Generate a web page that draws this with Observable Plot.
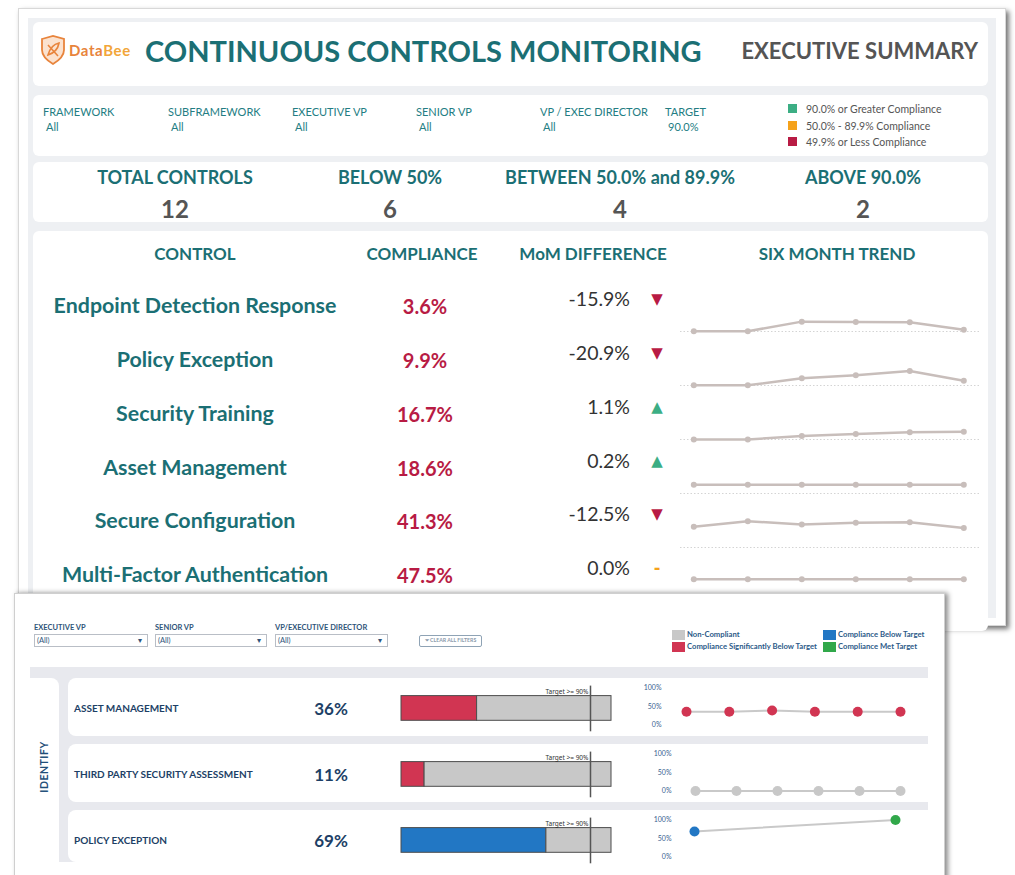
<!DOCTYPE html>
<html><head><meta charset="utf-8">
<script src="https://cdn.jsdelivr.net/npm/d3@7"></script>
<script src="https://cdn.jsdelivr.net/npm/@observablehq/plot@0.6"></script>
<style>
body{margin:0;width:1015px;height:875px;overflow:hidden;background:#fff;font-family:Lato,"Open Sans",sans-serif;position:relative}
.abs{position:absolute;box-sizing:border-box}
.t{position:absolute;white-space:nowrap;line-height:1}
.c{transform:translate(-50%,-50%)}
.l{transform:translate(0,-50%)}
.r{transform:translate(-100%,-50%)}
</style></head><body>
<div id="root"></div>
<script>
// ---------- DATA ----------
const dashTitle = "CONTINUOUS CONTROLS MONITORING";
const dashSubtitle = "EXECUTIVE SUMMARY";
const filterLabels = ["FRAMEWORK","SUBFRAMEWORK","EXECUTIVE VP","SENIOR VP","VP / EXEC DIRECTOR","TARGET"];
const filterValues = ["All","All","All","All","All","90.0%"];
const bandLabels = ["90.0% or Greater Compliance","50.0% - 89.9% Compliance","49.9% or Less Compliance"];
const kpiLabels = ["TOTAL CONTROLS","BELOW 50%","BETWEEN 50.0% and 89.9%","ABOVE 90.0%"];
const kpiValues = [12,6,4,2];
const tableHeaders = ["CONTROL","COMPLIANCE","MoM DIFFERENCE","SIX MONTH TREND"];
const controls = ["Endpoint Detection Response","Policy Exception","Security Training","Asset Management","Secure Configuration","Multi-Factor Authentication"];
const compliance = [3.6,9.9,16.7,18.6,41.3,47.5];
const momDiff = [-15.9,-20.9,1.1,0.2,-12.5,0.0];
const months = [1,2,3,4,5,6];
const trend = [
  [0.5,0.5,21,20,19.5,3.6],
  [0.5,0.5,15.5,22,30.8,9.9],
  [0.2,0.2,7.5,11.5,15.6,16.7],
  [18.4,18.4,18.4,18.4,18.4,18.6],
  [44,56,49,52.5,53.8,41.3],
  [47.5,47.5,47.5,47.5,47.5,47.5]
];
// bottom panel
const bFilterLabels = ["EXECUTIVE VP","SENIOR VP","VP/EXECUTIVE DIRECTOR"];
const bFilterValues = ["(All)","(All)","(All)"];
const statuses = ["Non-Compliant","Compliance Significantly Below Target","Compliance Below Target","Compliance Met Target"];
const groupName = "IDENTIFY";
const bControls = ["ASSET MANAGEMENT","THIRD PARTY SECURITY ASSESSMENT","POLICY EXCEPTION"];
const bCompliance = [36,11,69];
const targetValue = 90;
const bTrendMonths = [[1,2,3,4,5,6],[1,2,3,4,5,6],[1,6]];
const bTrend = [[36,36,39,36,36,36],[0,0,0,0,0,0],[69,100]];

// ---------- STYLE ----------
const TEAL = "#1b6f74", TEAL2 = "#237d83", RED = "#b81b44", GREEN = "#3cae84", ORANGE = "#f5a21b";
const bandColors = [GREEN, ORANGE, RED];
const statusColors = ["#c8c8c8","#d13552","#2277c4","#31a84a"];
const NAVY = "#1d3f66";

const root = document.getElementById("root");
function box(x,y,w,h,style){const d=document.createElement('div');d.className='abs';Object.assign(d.style,{left:x+'px',top:y+'px',width:w+'px',height:h+'px'},style||{});root.appendChild(d);return d;}
function txt(s,x,y,anchor,style){const d=document.createElement('div');d.className='t '+anchor;d.textContent=s;Object.assign(d.style,{left:x+'px',top:y+'px'},style||{});root.appendChild(d);return d;}
function place(node,x,y){node.style.position='absolute';node.style.left=x+'px';node.style.top=y+'px';root.appendChild(node);}

// ---------- TOP PANEL ----------
box(18,8,988,618,{background:'#fff',border:'1px solid #d8d8d8',boxShadow:'3px 3px 5px rgba(0,0,0,0.55)'});
box(28,18,968,600,{background:'#eef0f3'});
[[22,64],[95,61],[162,60],[231,400]].forEach(([y,h])=>box(33,y,955,h,{background:'#fff',borderRadius:'6px'}));

// logo
const logo = document.createElement('div');
logo.innerHTML = `<svg width="28" height="30" viewBox="0 0 28 30"><path d="M3 4 L14 1 L25 4 L25 15 C25 22 19 26 14 29 C9 26 3 22 3 15 Z" fill="#fbe2cf" stroke="#e8843c" stroke-width="1.8"/><path d="M9 20 C11 13 15 9 20 8 C19 14 15 18 9 20 Z M9 10 L19 21" fill="none" stroke="#e8843c" stroke-width="1.6"/></svg>`;
place(logo,39,35);
const lt = txt("",69,50,'l',{fontSize:'15px',fontWeight:'700',letterSpacing:'0.6px'});
lt.innerHTML = '<span style="color:#e8843c">Data</span><span style="color:#f2a63a">Bee</span>';
txt(dashTitle,145,50,'l',{fontSize:'29px',fontWeight:'700',color:TEAL});
txt(dashSubtitle,978,51,'r',{fontSize:'22px',fontWeight:'700',color:'#555'});

// filters
const fx = [43,168,292,416,540,665];
filterLabels.forEach((s,i)=>{
  txt(s,fx[i],111,'l',{fontSize:'11px',color:TEAL2});
  txt(filterValues[i],fx[i]+3,126,'l',{fontSize:'11px',color:TEAL2});
});
bandLabels.forEach((s,i)=>{
  box(788,104+16.5*i,9,9,{background:bandColors[i]});
  txt(s,806,109+16.5*i,'l',{fontSize:'10.5px',color:'#555'});
});

// KPIs
const kx = [175,390,620,863];
kpiLabels.forEach((s,i)=>{
  txt(s,kx[i],177,'c',{fontSize:'18px',fontWeight:'700',color:TEAL});
  txt(String(kpiValues[i]),kx[i],209,'c',{fontSize:'24px',fontWeight:'700',color:'#555'});
});

// table
const hx = [195,422,593,837];
tableHeaders.forEach((s,i)=>txt(s,hx[i],253,'c',{fontSize:'17px',fontWeight:'700',color:TEAL}));
const rowY = [306,360,414,468,521,575];
controls.forEach((c,i)=>{
  txt(c,195,rowY[i],'c',{fontSize:'21.4px',fontWeight:'700',color:TEAL});
  txt(compliance[i].toFixed(1)+"%",425,rowY[i],'c',{fontSize:'20px',fontWeight:'700',color:RED});
  const m = momDiff[i];
  txt(m.toFixed(1)+"%",630,rowY[i]-7,'r',{fontSize:'19.5px',fontWeight:'400',color:'#333'});
  const sym = m < 0 ? "▼" : (m > 0.05 ? "▲" : "-");
  const col = m < 0 ? RED : (m > 0.05 ? GREEN : ORANGE);
  txt(sym,657,rowY[i]-7,'c',{fontSize: sym==="-"?'16px':'15px',fontWeight:'700',color:col,fontFamily:'"DejaVu Sans",sans-serif'});
});

const trendRows = controls.flatMap((c,i)=>trend[i].map((v,j)=>({control:c, month:months[j], value:v})));
const spark = Plot.plot({
  width:300, height:324, margin:0,
  x:{domain:[1,6], axis:null, insetLeft:13.3, insetRight:16.7},
  y:{domain:[0,115], axis:null},
  fy:{domain:controls, axis:null, padding:0},
  marks:[
    Plot.ruleY([0],{stroke:"#d4d4d4",strokeDasharray:"1.5,2",strokeWidth:1}),
    Plot.line(trendRows,{x:"month",y:"value",fy:"control",stroke:"#c8bebb",strokeWidth:2.5}),
    Plot.dot(trendRows,{x:"month",y:"value",fy:"control",fill:"#c8bebb",r:3})
  ]
});
place(spark,680,276.5);

// ---------- BOTTOM PANEL ----------
box(14,593,931,290,{background:'#fff',border:'1px solid #cfcfcf',boxShadow:'3px 0 5px rgba(0,0,0,0.45)'});
const bfx = [[34,114],[155,112],[275,113]];
bFilterLabels.forEach((s,i)=>{
  txt(s,bfx[i][0],627.5,'l',{fontSize:'7.5px',fontWeight:'700',color:'#2f5479'});
  box(bfx[i][0],634,bfx[i][1],13,{border:'1px solid #b9bec6',background:'#fff'});
  txt(bFilterValues[i],bfx[i][0]+3,640.5,'l',{fontSize:'7.5px',color:'#2f5479'});
  txt("▾",bfx[i][0]+bfx[i][1]-8,641,'c',{fontSize:'8px',color:'#2f5479',fontFamily:'"DejaVu Sans",sans-serif'});
});
box(419,635,63,12,{border:'1px solid #8fa3b5',borderRadius:'2px'});
txt("⏷ CLEAR ALL FILTERS",450.5,641,'c',{fontSize:'5.2px',color:'#8a9aab',fontWeight:'700'});
const legPos = [[672,630],[672,642],[823,630],[823,642]];
statuses.forEach((s,i)=>{
  box(legPos[i][0],legPos[i][1],13,10,{background:statusColors[i]});
  txt(s,legPos[i][0]+15,legPos[i][1]+5,'l',{fontSize:'7.7px',fontWeight:'700',color:'#2c5a88'});
});

// grid backdrop
box(30,667,898,195,{background:'#e8e9ee'});
box(30,678,29,184,{background:'#fff',borderTopRightRadius:'8px'});
[[678,58],[744,58],[810,52]].forEach(([y,h])=>box(68,y,860,h,{background:'#fff',borderRadius:'8px 0 0 8px'}));
txt(groupName,44,767,'',{fontSize:'10.5px',fontWeight:'700',color:'#1f4e79',letterSpacing:'0.5px',transform:'translate(-50%,-50%) rotate(-90deg)'});

const bRowY = [708.4,774.4,840.2];
bControls.forEach((c,i)=>{
  txt(c,74,bRowY[i],'l',{fontSize:'10px',fontWeight:'700',color:NAVY});
  txt(bCompliance[i]+"%",331,bRowY[i],'c',{fontSize:'17px',fontWeight:'700',color:NAVY});
});

function statusOf(v){ return v===0 ? statuses[0] : v < 50 ? statuses[1] : v < targetValue ? statuses[2] : statuses[3]; }
const segs = bControls.flatMap((c,i)=>[
  {control:c, x1:0, x2:bCompliance[i], status:statusOf(bCompliance[i])},
  {control:c, x1:bCompliance[i], x2:100, status:statuses[0]}
]);
const bars = Plot.plot({
  width:330, height:198, margin:0, marginLeft:101, marginRight:19,
  x:{domain:[0,100], axis:null},
  fy:{domain:bControls, axis:null, padding:0},
  color:{domain:statuses, range:statusColors},
  marks:[
    Plot.barX(segs,{x1:"x1",x2:"x2",fy:"control",fill:"status",stroke:"#4d4d4d",strokeWidth:1,insetTop:20.6,insetBottom:20.7}),
    Plot.ruleX([targetValue],{stroke:"#555",strokeWidth:1.5,insetTop:10.6,insetBottom:9.7}),
    Plot.text([targetValue],{x:d=>d,text:d=>`Target >= ${d}%`,frameAnchor:"top",dy:13.6,dx:-2,textAnchor:"end",fontSize:6.5,fill:"#333"})
  ]
});
place(bars,300,675.4);

const sparkLayout = [{ml:40,il:16,ir:0},{ml:50,il:15,ir:0},{ml:50,il:14,ir:5}];
bControls.forEach((c,i)=>{
  const d = bTrendMonths[i].map((m,j)=>({month:m,value:bTrend[i][j]}));
  const L = sparkLayout[i];
  const p = Plot.plot({
    width:300, height:66, marginTop:12.5, marginBottom:16.5, marginLeft:L.ml, marginRight:30,
    style:{color:"#3a6190", fontSize:"7px", fontFamily:"Lato, sans-serif", background:"transparent"},
    x:{domain:[1,6], axis:null, insetLeft:L.il, insetRight:L.ir},
    y:{domain:[0,100], ticks:[0,50,100], tickFormat:v=>v+"%", tickSize:0, label:null},
    color:{domain:statuses, range:statusColors},
    marks:[
      Plot.line(d,{x:"month",y:"value",stroke:"#c9c9c9",strokeWidth:2}),
      Plot.dot(d,{x:"month",y:"value",fill:v=>statusOf(v.value),r:5})
    ]
  });
  place(p,630,675.4+66*i);
});
</script>
</body></html>
